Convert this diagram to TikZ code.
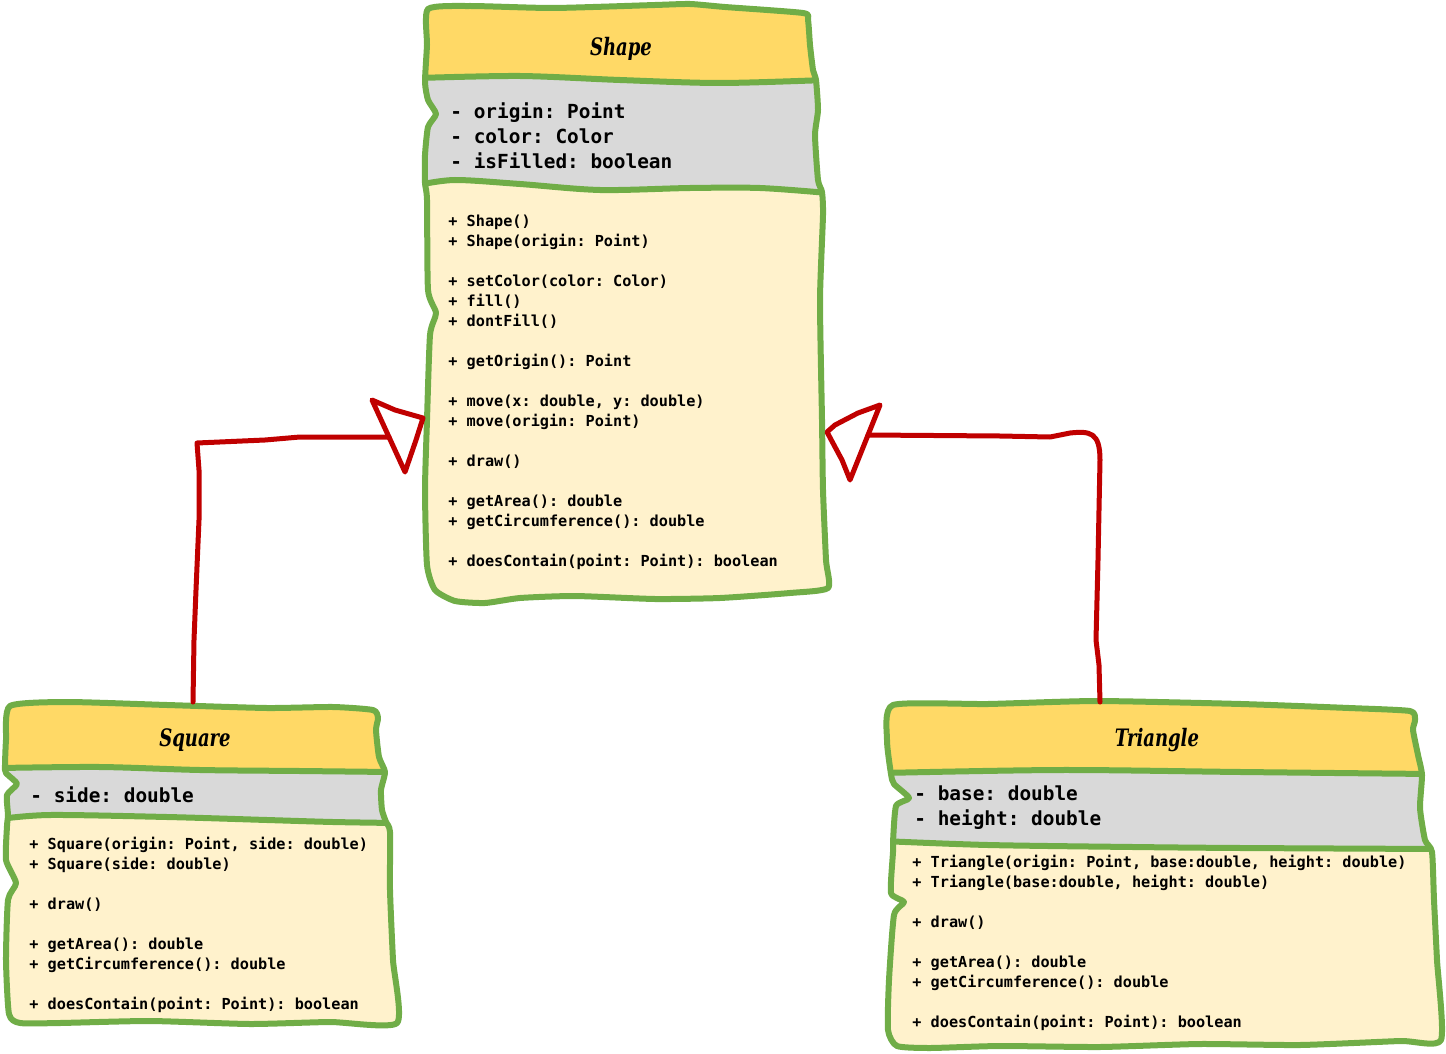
\documentclass[tikz,border=0pt]{standalone}
\usepackage{fontspec}
\newfontfamily\umlmono{DejaVu Sans Mono}
\newfontfamily\ttlfont{DejaVu Serif}
\newcommand\ttltext[1]{\scalebox{0.75}[1]{#1}}
\frenchspacing
\definecolor{umlgreen}{HTML}{70AD47}
\definecolor{umlred}{HTML}{C00000}
\definecolor{headfill}{HTML}{FFD966}
\definecolor{attrfill}{HTML}{D9D9D9}
\definecolor{bodyfill}{HTML}{FFF2CC}
\tikzset{
  meth/.style={anchor=west, inner sep=0pt, font=\umlmono\fontsize{7.6}{9}\selectfont\bfseries\frenchspacing, text height=5.5pt, text depth=0pt},
  attr/.style={anchor=west, inner sep=0pt, font=\umlmono\fontsize{9.7}{12}\selectfont\bfseries\frenchspacing, text height=7pt, text depth=0pt},
  ttl/.style={anchor=base, inner sep=0pt, font=\ttlfont\fontsize{12}{14}\selectfont\bfseries\itshape},
  outline/.style={draw=umlgreen, line width=3pt, line join=round, line cap=round},
  divider/.style={draw=umlgreen, line width=3pt, line cap=round},
  conn/.style={draw=umlred, line width=2.5pt, line join=round, line cap=round},
  wob/.style={smooth cycle, tension=0.35},
  wl/.style={smooth, tension=0.5}
}
\begin{document}
\begin{tikzpicture}[x=0.5pt, y=-0.5pt]
\useasboundingbox (0,0) rectangle (1446,1054);

% ---------------- Shape ----------------
\path[save path=\SHout] plot[wob] coordinates {(428,9) (470,6) (553,8) (655,5) (690,4) (725,7) (803,13) (808,20) (810,45) (813,70) (816,80) (818,110) (815,135) (818,180) (822,192) (823,215) (820,300) (822,420) (823,490) (826,560) (828,588) (790,593) (720,598) (655,599) (575,596) (520,598) (485,603) (455,601) (435,590) (427,565) (425,490) (427,420) (430,335) (436,313) (428,290) (427,200) (425,183) (425,155) (428,127) (436,114) (428,100) (425,82) (427,45)};
\begin{scope}
  \clip[use path=\SHout];
  \fill[headfill] (400,-10) rectangle (860,620);
  \fill[attrfill] (400,620) -- plot[wl] coordinates {(418,78) (520,76) (620,80) (720,83) (825,80)} -- (860,620) -- cycle;
  \fill[bodyfill] (400,620) -- plot[wl] coordinates {(418,185) (455,180) (520,184) (600,190) (690,188) (760,188) (828,193)} -- (860,620) -- cycle;
  \draw[divider] plot[wl] coordinates {(418,78) (520,76) (620,80) (720,83) (825,80)};
  \draw[divider] plot[wl] coordinates {(418,185) (455,180) (520,184) (600,190) (690,188) (760,188) (828,193)};
\end{scope}
\draw[outline, use path=\SHout];
\node[ttl] (shapetitle) at (621,56) {\ttltext{Shape}};
\foreach \y/\t [count=\i] in {112/{- origin: Point}, 137/{- color: Color}, 162/{- isFilled: boolean}}
  \node[attr] (sha\i) at (450,\y) {\t};
\foreach \y/\t [count=\i] in {221/{+ Shape()}, 241/{+ Shape(origin: Point)}, 281/{+ setColor(color: Color)}, 301/{+ fill()}, 321/{+ dontFill()}, 361/{+ getOrigin(): Point}, 401/{+ move(x: double, y: double)}, 421/{+ move(origin: Point)}, 461/{+ draw()}, 501/{+ getArea(): double}, 521/{+ getCircumference(): double}, 561/{+ doesContain(point: Point): boolean}}
  \node[meth] (shm\i) at (448,\y) {\t};

% ---------------- Square ----------------
\path[save path=\SQout] plot[wob] coordinates {(10,706) (67,702) (167,705) (267,708) (333,707) (373,710) (378,718) (376,730) (379,757) (385,772) (381,790) (382,810) (386,822) (390,832) (390,890) (393,960) (397,1023) (330,1022) (250,1024) (150,1021) (60,1023) (20,1023) (9,1014) (6,960) (8,900) (16,883) (6,860) (7,826) (8,815) (7,795) (17,784) (8,775) (5,770) (6,740)};
\begin{scope}
  \clip[use path=\SQout];
  \fill[headfill] (-10,690) rectangle (420,1040);
  \fill[attrfill] (-10,1040) -- plot[wl] coordinates {(0,768) (100,767) (200,770) (300,771) (390,772)} -- (420,1040) -- cycle;
  \fill[bodyfill] (-10,1040) -- plot[wl] coordinates {(0,819) (50,815) (167,817) (267,820) (333,822) (395,823)} -- (420,1040) -- cycle;
  \draw[divider] plot[wl] coordinates {(0,768) (100,767) (200,770) (300,771) (390,772)};
  \draw[divider] plot[wl] coordinates {(0,819) (50,815) (167,817) (267,820) (333,822) (395,823)};
\end{scope}
\draw[outline, use path=\SQout];
\node[ttl] (squaretitle) at (195,746) {\ttltext{Square}};
\node[attr] (sqa1) at (30,795) {- side: double};
\foreach \y/\t [count=\i] in {844/{+ Square(origin: Point, side: double)}, 864/{+ Square(side: double)}, 904/{+ draw()}, 944/{+ getArea(): double}, 964/{+ getCircumference(): double}, 1004/{+ doesContain(point: Point): boolean}}
  \node[meth] (sqm\i) at (29,\y) {\t};

% ---------------- Triangle ----------------
\path[save path=\TRout] plot[wob] coordinates {(893,705) (988,704) (1097,701) (1241,704) (1349,708) (1410,711) (1415,720) (1413,730) (1418,755) (1422,775) (1420,808) (1425,840) (1432,852) (1434,900) (1437,960) (1441,1040) (1400,1041) (1300,1045) (1200,1044) (1100,1047) (1000,1046) (930,1048) (897,1046) (888,1030) (889,980) (894,915) (904,902) (891,893) (893,852) (893,842) (896,806) (909,798) (894,784) (891,774) (887,740)};
\begin{scope}
  \clip[use path=\TRout];
  \fill[headfill] (870,690) rectangle (1446,1054);
  \fill[attrfill] (870,1060) -- plot[wl] coordinates {(882,773) (1060,770) (1241,772) (1430,774)} -- (1446,1060) -- cycle;
  \fill[bodyfill] (870,1060) -- plot[wl] coordinates {(882,841) (988,845) (1133,847) (1241,848) (1440,849)} -- (1446,1060) -- cycle;
  \draw[divider] plot[wl] coordinates {(882,773) (1060,770) (1241,772) (1430,774)};
  \draw[divider] plot[wl] coordinates {(882,841) (988,845) (1133,847) (1241,848) (1440,849)};
\end{scope}
\draw[outline, use path=\TRout];
\node[ttl] (triangletitle) at (1157,746) {\ttltext{Triangle}};
\foreach \y/\t [count=\i] in {793/{- base: double}, 818/{- height: double}}
  \node[attr] (tra\i) at (914,\y) {\t};
\foreach \y/\t [count=\i] in {862/{+ Triangle(origin: Point, base:double, height: double)}, 882/{+ Triangle(base:double, height: double)}, 922/{+ draw()}, 962/{+ getArea(): double}, 982/{+ getCircumference(): double}, 1022/{+ doesContain(point: Point): boolean}}
  \node[meth] (trm\i) at (912,\y) {\t};

% ---------------- Connectors ----------------
\coordinate (sqtop) at (193,702);
\coordinate (tritop) at (1100,702);
\coordinate (shapeW) at (423,418);
\coordinate (shapeE) at (827,432);
\coordinate (lbase) at (389,437);
\coordinate (rbase) at (868,435);

\draw[conn] (sqtop) -- (194,640) -- (196,590) -- (199,520) -- (199,470) -- (197,443) -- (265,440) -- (300,437) -- (lbase);
\draw[conn] (372,400) -- (395,410) -- (shapeW) -- (416,440) -- (405,472) -- cycle;

\draw[conn] (tritop) -- (1099,665) -- (1096,640) -- (1098,560) -- (1100,460) .. controls (1100,432) and (1090,431) .. (1070,433) -- (1050,437) -- (1000,436) -- (rbase);
\draw[conn] (880,405) -- (858,413) -- (835,425) -- (shapeE) -- (842,460) -- (850,480) -- cycle;
\end{tikzpicture}
\end{document}
